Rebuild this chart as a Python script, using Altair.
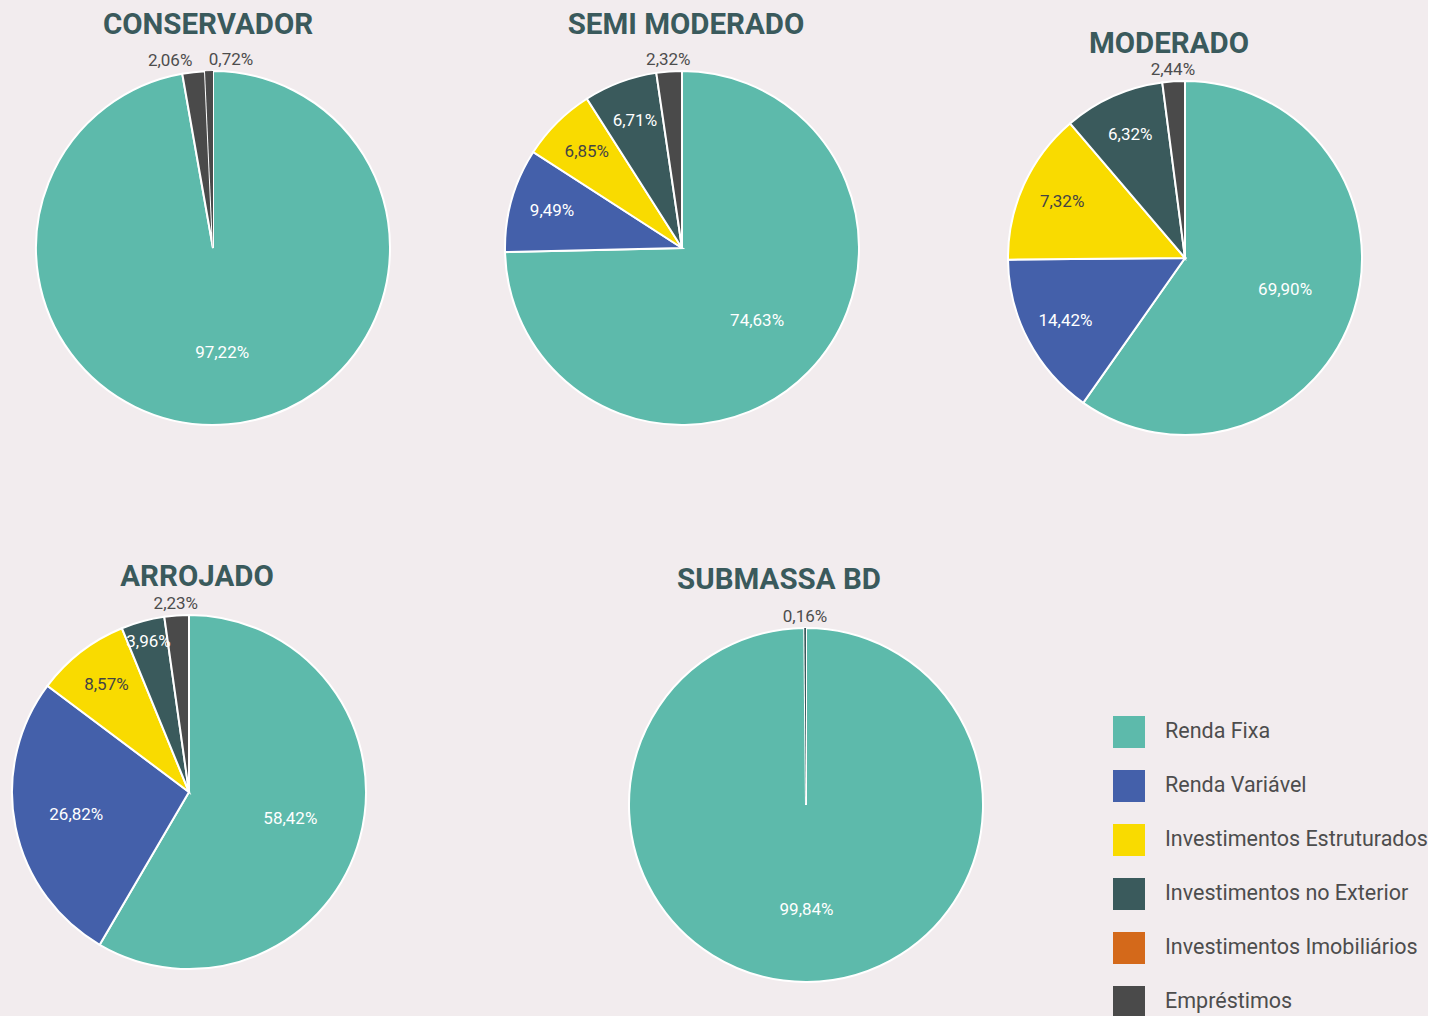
import math
import altair as alt
import pandas as pd

# ---------------- data ----------------
categorias = ["Renda Fixa", "Renda Variável", "Investimentos Estruturados",
              "Investimentos no Exterior", "Investimentos Imobiliários", "Empréstimos"]
cores = ["#5dbaab", "#4460aa", "#f9db00", "#3a5a5c", "#d4691a", "#4a4a4a"]

conservador_cat = ["Renda Fixa", "Empréstimos", "Empréstimos"]
conservador_val = [97.22, 2.06, 0.72]
conservador_rot = ["97,22%", "2,06%", "0,72%"]

semi_cat = ["Renda Fixa", "Renda Variável", "Investimentos Estruturados",
            "Investimentos no Exterior", "Empréstimos"]
semi_val = [74.63, 9.49, 6.85, 6.71, 2.32]
semi_rot = ["74,63%", "9,49%", "6,85%", "6,71%", "2,32%"]

moderado_cat = ["Renda Fixa", "Renda Variável", "Investimentos Estruturados",
                "Investimentos no Exterior", "Empréstimos"]
moderado_val = [59.75, 15.10, 13.90, 9.20, 2.05]
moderado_rot = ["69,90%", "14,42%", "7,32%", "6,32%", "2,44%"]

arrojado_cat = ["Renda Fixa", "Renda Variável", "Investimentos Estruturados",
                "Investimentos no Exterior", "Empréstimos"]
arrojado_val = [58.42, 26.82, 8.57, 3.96, 2.23]
arrojado_rot = ["58,42%", "26,82%", "8,57%", "3,96%", "2,23%"]

submassa_cat = ["Renda Fixa", "Investimentos no Exterior"]
submassa_val = [99.84, 0.16]
submassa_rot = ["99,84%", "0,16%"]

TITLE_COLOR = "#3a5a5c"
FONT = "Roboto"
ESCALA = alt.Scale(domain=[0, 100], range=[0, 2 * math.pi])


def tabela(cats, vals, rots):
    return pd.DataFrame({
        "categoria": cats,
        "share": vals,
        "rotulo": rots,
        "ordem": list(range(len(cats))),
    })


def pizza(cats, vals, rots, titulo, w, h, offset, dx=0):
    base = (
        alt.Chart(tabela(cats, vals, rots))
        .transform_window(cum="sum(share)", sort=[alt.SortField("ordem")], frame=[None, 0])
        .transform_calculate(
            inicio="datum.cum - datum.share",
            meio="datum.cum - datum.share / 2",
            fora="datum.share < 3 ? 1 : 0",
        )
        .transform_joinaggregate(nfora="sum(fora)", maxordem="max(ordem)")
        .transform_calculate(
            raio="datum.share < 3 ? 188 : (datum.share < 5 ? 155 : (datum.share < 20 ? 135 : (datum.share < 50 ? 115 : 105)))",
            cor="datum.share < 3 ? '#4d4d4d' : (datum.categoria == 'Investimentos Estruturados' ? '#444444' : '#ffffff')",
        )
    )
    arcs = base.mark_arc(outerRadius=177, stroke="white").encode(
        theta=alt.Theta("inicio:Q", scale=ESCALA),
        theta2="cum:Q",
        color=alt.Color(
            "categoria:N",
            scale=alt.Scale(domain=categorias, range=cores),
            legend=alt.Legend(title=None, orient="none", legendX=1101, legendY=658),
        ),
        strokeWidth=alt.condition("datum.share < 1", alt.value(0), alt.value(2)),
    )
    enc_common = dict(
        theta=alt.Theta("meio:Q", scale=ESCALA),
        radius=alt.Radius("raio:Q", scale=None),
        fill=alt.Fill("cor:N", scale=None),
    )
    t_center = base.mark_text(font=FONT, fontSize=17, align="center", baseline="middle").encode(
        text=alt.condition("datum.share >= 3 || datum.nfora == 1", alt.Text("rotulo:N"), alt.value("")),
        **enc_common,
    )
    t_right = base.mark_text(font=FONT, fontSize=17, align="right", baseline="middle").encode(
        text=alt.condition("datum.share < 3 && datum.nfora > 1 && datum.ordem < datum.maxordem",
                           alt.Text("rotulo:N"), alt.value("")),
        **enc_common,
    )
    t_left = base.mark_text(font=FONT, fontSize=17, align="left", baseline="middle").encode(
        text=alt.condition("datum.share < 3 && datum.nfora > 1 && datum.ordem == datum.maxordem",
                           alt.Text("rotulo:N"), alt.value("")),
        **enc_common,
    )
    return alt.layer(arcs, t_center, t_right, t_left).properties(
        width=w,
        height=h,
        title=alt.Title(
            text=titulo, font=FONT, fontSize=29.5, fontWeight="bold", color=TITLE_COLOR,
            offset=offset, frame="group", baseline="alphabetic", dx=dx,
        ),
    )


A = pizza(conservador_cat, conservador_val, conservador_rot, "CONSERVADOR", 402, 380, -12, dx=-5)
B = pizza(semi_cat, semi_val, semi_rot, "SEMI MODERADO", 496, 380, -12, dx=4)
C = pizza(moderado_cat, moderado_val, moderado_rot, "MODERADO", 470, 400, -24, dx=-16)
D = pizza(arrojado_cat, arrojado_val, arrojado_rot, "ARROJADO", 354, 380, -20, dx=8)
E = pizza(submassa_cat, submassa_val, submassa_rot, "SUBMASSA BD", 480, 406, -16, dx=-27)

row1 = alt.hconcat(A, B, C, spacing=20, bounds="flush")
row2 = alt.hconcat(D, E, spacing=200, bounds="flush")

chart = (
    alt.vconcat(row1, row2, spacing=103)
    .resolve_scale(color="shared")
    .properties(background="#f2ecee", padding={"left": 8, "top": 9, "right": 0, "bottom": 0})
    .configure_view(strokeWidth=0)
    .configure_legend(
        symbolType="square",
        symbolSize=1024,
        symbolStrokeWidth=0,
        labelFont=FONT,
        labelFontSize=21.5,
        labelColor="#4d4d4d",
        labelOffset=20,
        rowPadding=22,
        labelLimit=400,
    )
)

chart.save("out.html", embed_options={"renderer": "svg", "actions": False})
